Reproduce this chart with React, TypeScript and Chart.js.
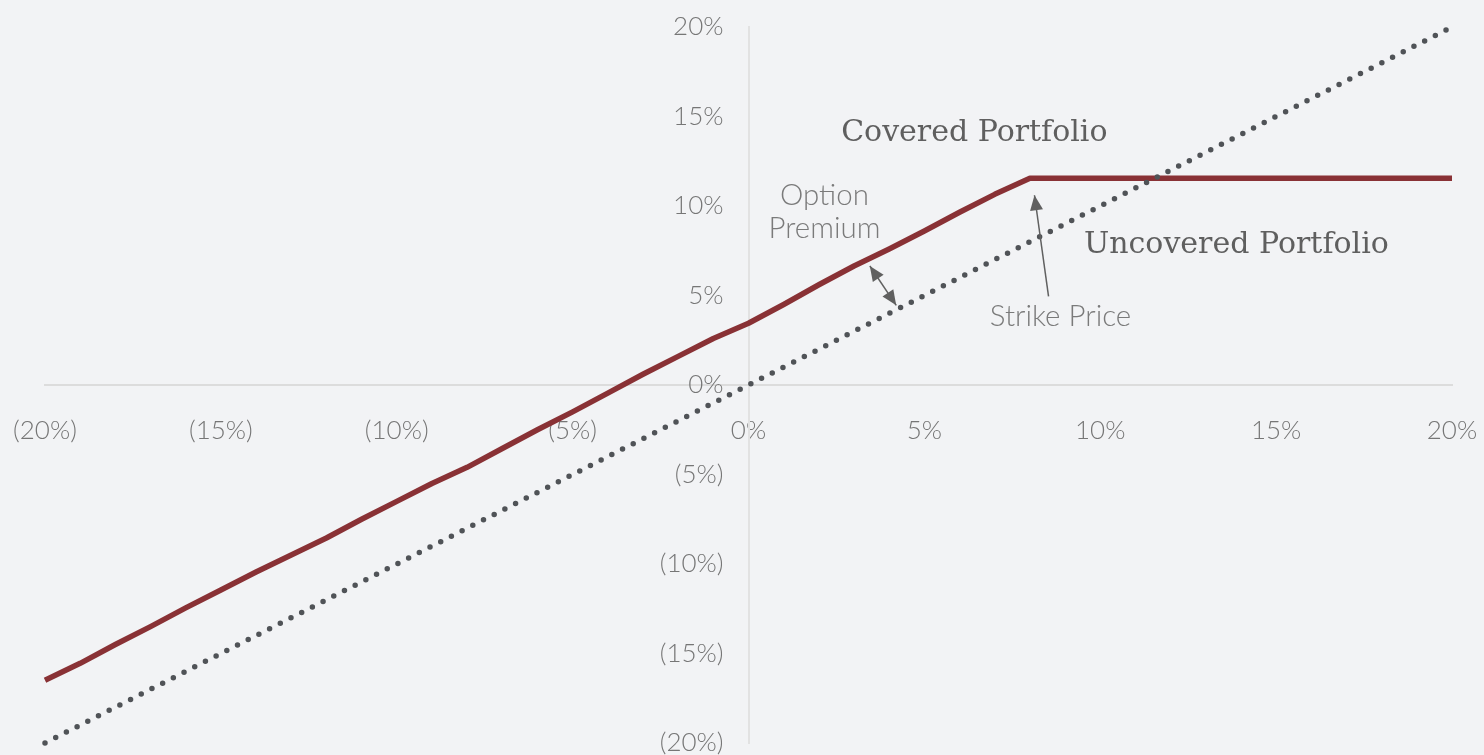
import React, { useEffect, useRef } from "react";
import { Chart, registerables } from "chart.js";

Chart.register(...registerables);

// Underlying asset return (%)
const assetReturns = [
  -20, -19, -18, -17, -16, -15, -14, -13, -12, -11, -10, -9, -8, -7, -6, -5, -4, -3, -2, -1,
  0, 1, 2, 3, 4, 5, 6, 7, 8, 9, 10, 11, 12, 13, 14, 15, 16, 17, 18, 19, 20,
];
// Covered call portfolio return (%)
const coveredReturns = [
  -16.5, -15.55, -14.5, -13.5, -12.45, -11.45, -10.45, -9.5, -8.55, -7.5, -6.5, -5.5, -4.6,
  -3.55, -2.5, -1.5, -0.45, 0.6, 1.6, 2.6, 3.45, 4.5, 5.6, 6.65, 7.6, 8.6, 9.65, 10.65,
  11.55, 11.55, 11.55, 11.55, 11.55, 11.55, 11.55, 11.55, 11.55, 11.55, 11.55, 11.55, 11.55,
];
// Uncovered portfolio return (%)
const uncoveredReturns = [
  -20, -19, -18, -17, -16, -15, -14, -13, -12, -11, -10, -9, -8, -7, -6, -5, -4, -3, -2, -1,
  0, 1, 2, 3, 4, 5, 6, 7, 8, 9, 10, 11, 12, 13, 14, 15, 16, 17, 18, 19, 20,
];
const axisMin = -20;
const axisMax = 20;
const axisStep = 5;

const formatPct = (v: number) => (v < 0 ? `(${-v}%)` : `${v}%`);

const LABEL_FONT = "Lato";
const SERIF_FONT = "'DejaVu Serif'";

function drawArrowHead(ctx: CanvasRenderingContext2D, fx: number, fy: number, tx: number, ty: number, len: number, wid: number) {
  const ang = Math.atan2(ty - fy, tx - fx);
  ctx.beginPath();
  ctx.moveTo(tx, ty);
  ctx.lineTo(tx - len * Math.cos(ang) + (wid / 2) * Math.sin(ang), ty - len * Math.sin(ang) - (wid / 2) * Math.cos(ang));
  ctx.lineTo(tx - len * Math.cos(ang) - (wid / 2) * Math.sin(ang), ty - len * Math.sin(ang) + (wid / 2) * Math.cos(ang));
  ctx.closePath();
  ctx.fill();
}

const annotationPlugin = {
  id: "annotations",
  afterDatasetsDraw(chart: any) {
    const { ctx, scales } = chart;
    const X = (v: number) => scales.x.getPixelForValue(v);
    const Y = (v: number) => scales.y.getPixelForValue(v);
    ctx.save();
    ctx.textAlign = "center";
    ctx.textBaseline = "middle";

    ctx.fillStyle = "#5f5f5f";
    ctx.font = `30px ${SERIF_FONT}`;
    ctx.fillText("Covered Portfolio", X(6.42), Y(14.08));
    ctx.fillText("Uncovered Portfolio", X(13.87), Y(7.82));

    ctx.fillStyle = "#7a7a7a";
    ctx.font = `300 29.5px ${LABEL_FONT}`;
    ctx.fillText("Option", X(2.16), Y(10.56));
    ctx.fillText("Premium", X(2.16), Y(8.72));
    ctx.fillText("Strike Price", X(8.87), Y(3.85));

    // double-headed arrow (option premium)
    ctx.strokeStyle = "#606060";
    ctx.fillStyle = "#606060";
    ctx.lineWidth = 1.5;
    const ax1 = X(3.45), ay1 = Y(6.65), ax2 = X(4.2), ay2 = Y(4.45);
    ctx.beginPath();
    ctx.moveTo(ax1, ay1);
    ctx.lineTo(ax2, ay2);
    ctx.stroke();
    drawArrowHead(ctx, ax2, ay2, ax1, ay1, 15, 13);
    drawArrowHead(ctx, ax1, ay1, ax2, ay2, 15, 13);

    // strike price arrow
    const sx1 = X(8.53), sy1 = Y(4.95), sx2 = X(8.13), sy2 = Y(10.6);
    ctx.beginPath();
    ctx.moveTo(sx1, sy1);
    ctx.lineTo(sx2, sy2);
    ctx.stroke();
    drawArrowHead(ctx, sx1, sy1, sx2, sy2, 15, 13);
    ctx.restore();
  },
};

const zeroPadding = (scale: any) => {
  scale.paddingLeft = 0;
  scale.paddingRight = 0;
  scale.paddingTop = 0;
  scale.paddingBottom = 0;
};

const tickFont = { family: LABEL_FONT, size: 26, weight: "300", lineHeight: 1 };

export default function App() {
  const canvasRef = useRef<HTMLCanvasElement | null>(null);

  useEffect(() => {
    if (!canvasRef.current) return;
    const covered = assetReturns.map((x, i) => ({ x, y: coveredReturns[i] }));
    const uncovered = assetReturns.map((x, i) => ({ x, y: uncoveredReturns[i] }));
    const chart = new Chart(canvasRef.current, {
      type: "line",
      data: {
        datasets: [
          {
            label: "Uncovered Portfolio",
            data: uncovered,
            borderColor: "#505357",
            borderWidth: 5.5,
            borderDash: [0, 12],
            borderCapStyle: "round",
            pointRadius: 0,
            fill: false,
            tension: 0,
            clip: false,
          },
          {
            label: "Covered Portfolio",
            data: covered,
            borderColor: "#893135",
            borderWidth: 5.5,
            borderJoinStyle: "round",
            pointRadius: 0,
            fill: false,
            tension: 0,
            clip: false,
          },
        ],
      },
      options: {
        animation: false,
        responsive: true,
        maintainAspectRatio: false,
        layout: { padding: { left: 45, right: 32, top: 27, bottom: 12 } },
        plugins: { legend: { display: false }, tooltip: { enabled: false } },
        scales: {
          x: {
            type: "linear",
            position: { y: 0 },
            min: axisMin,
            max: axisMax,
            afterFit: zeroPadding,
            grid: { display: false, drawTicks: false },
            border: { display: true, color: "#dcdcdc", width: 2 },
            ticks: {
              stepSize: axisStep,
              padding: 33,
              color: "#767676",
              font: tickFont,
              maxRotation: 0,
              autoSkip: false,
              callback: (v: any) => formatPct(Number(v)),
            },
          },
          y: {
            type: "linear",
            position: { x: 0 },
            min: axisMin,
            max: axisMax,
            afterFit: zeroPadding,
            grid: { display: false, drawTicks: false },
            border: { display: true, color: "#e2e2e2", width: 2 },
            ticks: { display: false, stepSize: axisStep },
          },
          yLabels: {
            type: "linear",
            axis: "y",
            position: { x: -0.71 },
            min: axisMin,
            max: axisMax,
            afterFit: zeroPadding,
            grid: { display: false, drawTicks: false },
            border: { display: false },
            ticks: {
              stepSize: axisStep,
              color: "#767676",
              font: tickFont,
              autoSkip: false,
              callback: (v: any) => formatPct(Number(v)),
            },
          },
        },
      } as any,
      plugins: [annotationPlugin],
    });
    return () => chart.destroy();
  }, []);

  return (
    <div
      style={{
        position: "absolute",
        left: 0,
        top: 0,
        width: 1484,
        height: 755,
        background: "#f2f3f5",
      }}
    >
      <canvas ref={canvasRef} />
    </div>
  );
}
